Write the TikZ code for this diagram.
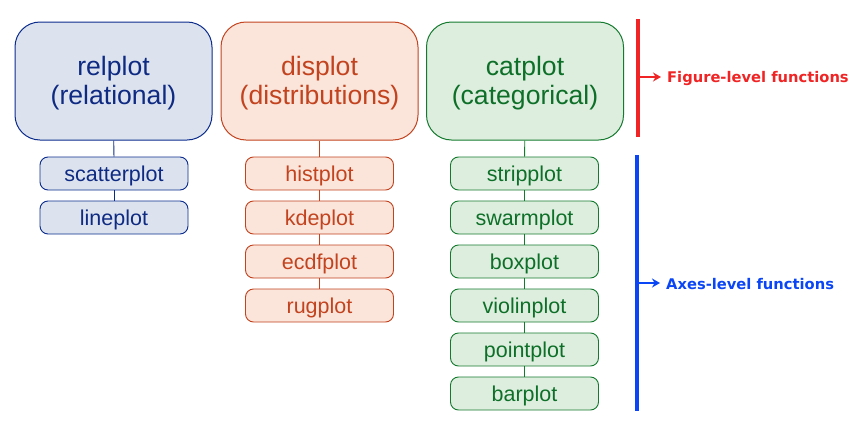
\documentclass[tikz,border=0pt]{standalone}
\usepackage{fontspec}
\setmainfont{Liberation Sans}
\newfontfamily\labelfont{DejaVu Sans}
\usetikzlibrary{arrows.meta}

\definecolor{relfill}{HTML}{DCE3EE}
\definecolor{reldraw}{HTML}{0A2B8C}
\definecolor{reltext}{HTML}{0E2A82}
\definecolor{disfill}{HTML}{FBE5DB}
\definecolor{disdraw}{HTML}{C2431E}
\definecolor{distext}{HTML}{C2431E}
\definecolor{catfill}{HTML}{DDEEDF}
\definecolor{catdraw}{HTML}{147A2E}
\definecolor{cattext}{HTML}{0E7028}
\definecolor{figred}{HTML}{F02424}
\definecolor{axblue}{HTML}{0A46F5}

% struts that push the text a little below the box centre
\newcommand{\bigstrut}{\rule{0pt}{24pt}}
\newcommand{\smallstrut}{\rule{0pt}{19.8pt}}

\tikzset{
  bigbox/.style={rounded corners=25pt, minimum width=197pt, minimum height=118pt,
    align=center, line width=1pt, inner sep=0pt,
    font=\fontsize{26.6}{28.5}\selectfont},
  smallbox/.style={rounded corners=8pt, minimum width=148pt, minimum height=33pt,
    align=center, line width=0.9pt, inner sep=0pt,
    font=\fontsize{21.5}{24}\selectfont},
  rel/.style={draw=reldraw, fill=relfill, text=reltext},
  dis/.style={draw=disdraw, fill=disfill, text=distext},
  cat/.style={draw=catdraw, fill=catfill, text=cattext},
  link/.style={line width=0.8pt},
  bracket/.style={line width=3.2pt},
  pointer/.style={line width=1.8pt, -{Stealth[length=8pt,width=9pt]}},
  note/.style={font=\labelfont\bfseries\fontsize{14.7}{17}\selectfont,
    anchor=west, inner sep=0pt},
}

\begin{document}
\begin{tikzpicture}[x=1pt, y=-1pt]
\useasboundingbox (0,0) rectangle (865,426);

% relational column
\node[bigbox, rel] (relplot) at (113.5,81) {\bigstrut relplot\\(relational)};
\node[smallbox, rel] (scatter) at (114,173.5) {\smallstrut scatterplot};
\node[smallbox, rel] (line) at (114,217.5) {\smallstrut lineplot};
\draw[link, reldraw] (relplot) -- (scatter);
\draw[link, reldraw] (scatter) -- (line);

% distributions column
\node[bigbox, dis] (displot) at (319.5,81) {\bigstrut displot\\(distributions)};
\node[smallbox, dis] (hist) at (319.5,173.5) {\smallstrut histplot};
\node[smallbox, dis] (kde) at (319.5,217.5) {\smallstrut kdeplot};
\node[smallbox, dis] (ecdf) at (319.5,261.5) {\smallstrut ecdfplot};
\node[smallbox, dis] (rug) at (319.5,305.5) {\smallstrut rugplot};
\draw[link, disdraw] (displot) -- (hist);
\draw[link, disdraw] (hist) -- (kde);
\draw[link, disdraw] (kde) -- (ecdf);
\draw[link, disdraw] (ecdf) -- (rug);

% categorical column
\node[bigbox, cat] (catplot) at (525,81) {\bigstrut catplot\\(categorical)};
\node[smallbox, cat] (strip) at (524.5,173.5) {\smallstrut stripplot};
\node[smallbox, cat] (swarm) at (524.5,217.5) {\smallstrut swarmplot};
\node[smallbox, cat] (box) at (524.5,261.5) {\smallstrut boxplot};
\node[smallbox, cat] (violin) at (524.5,305.5) {\smallstrut violinplot};
\node[smallbox, cat] (point) at (524.5,349.5) {\smallstrut pointplot};
\node[smallbox, cat] (bar) at (524.5,393.5) {\smallstrut barplot};
\draw[link, catdraw] (catplot) -- (strip);
\draw[link, catdraw] (strip) -- (swarm);
\draw[link, catdraw] (swarm) -- (box);
\draw[link, catdraw] (box) -- (violin);
\draw[link, catdraw] (violin) -- (point);
\draw[link, catdraw] (point) -- (bar);

% figure-level bracket
\coordinate (figtop) at (638,19);
\coordinate (figbot) at (638,137);
\coordinate (figmid) at (638,77);
\coordinate (figtip) at (661,77);
\draw[bracket, figred] (figtop) -- (figbot);
\draw[pointer, figred] (figmid) -- (figtip);
\node[note, text=figred] (figlabel) at (667,78) {Figure-level functions};

% axes-level bracket
\coordinate (axtop) at (637,155);
\coordinate (axbot) at (637,411);
\coordinate (axmid) at (637,283);
\coordinate (axtip) at (660,283);
\draw[bracket, axblue] (axtop) -- (axbot);
\draw[pointer, axblue] (axmid) -- (axtip);
\node[note, text=axblue] (axlabel) at (666,284) {Axes-level functions};
\end{tikzpicture}
\end{document}
